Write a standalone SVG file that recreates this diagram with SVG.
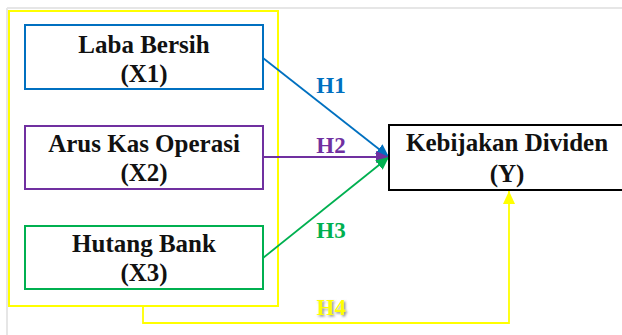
<svg xmlns="http://www.w3.org/2000/svg" width="622" height="335" viewBox="0 0 622 335">
  <style>
    .node-text { font-family: "Liberation Serif", "Times New Roman", serif; font-weight: bold; font-size: 25px; fill: #111; text-anchor: middle; }
    .label { font-family: "Liberation Serif", "Times New Roman", serif; font-weight: bold; font-size: 23px; text-anchor: middle; }
    .box { fill: #fff; stroke-width: 2; }
    .edge { fill: none; stroke-width: 1.8; }
  </style>
  <defs>
    <marker id="arrow-blue" markerUnits="userSpaceOnUse" markerWidth="14" markerHeight="12" refX="13" refY="6" orient="auto">
      <path d="M0,0 L13,6 L0,12 Z" fill="#0070C0"/>
    </marker>
    <marker id="arrow-purple" markerUnits="userSpaceOnUse" markerWidth="14" markerHeight="12" refX="13" refY="6" orient="auto">
      <path d="M0,0 L13,6 L0,12 Z" fill="#7030A0"/>
    </marker>
    <marker id="arrow-green" markerUnits="userSpaceOnUse" markerWidth="14" markerHeight="12" refX="13" refY="6" orient="auto">
      <path d="M0,0 L13,6 L0,12 Z" fill="#00B050"/>
    </marker>
    <marker id="arrow-yellow" markerUnits="userSpaceOnUse" markerWidth="14" markerHeight="12" refX="13" refY="6" orient="auto">
      <path d="M0,0 L13,6 L0,12 Z" fill="#FFFF00"/>
    </marker>
    <filter id="soft-shadow" x="-20%" y="-20%" width="150%" height="150%">
      <feDropShadow dx="1.5" dy="1.5" stdDeviation="1" flood-color="#777" flood-opacity="0.8"/>
    </filter>
  </defs>

  <!-- page background and frame lines -->
  <rect x="0" y="0" width="622" height="335" fill="#fff"/>
  <line x1="7" y1="8" x2="622" y2="8" stroke="#e6e6e6" stroke-width="2"/>
  <line x1="7" y1="8" x2="7" y2="335" stroke="#e6e6e6" stroke-width="2"/>

  <!-- grouping frame around the independent variables -->
  <rect id="independent-group" x="9" y="11" width="269" height="295" fill="none" stroke="#FFFF00" stroke-width="2"/>

  <g id="connectors">
    <line class="edge" x1="263" y1="58" x2="389" y2="157" stroke="#0070C0" marker-end="url(#arrow-blue)"/>
    <line class="edge" x1="263" y1="157" x2="389" y2="157" stroke="#7030A0" marker-end="url(#arrow-purple)"/>
    <line class="edge" x1="263" y1="258" x2="389" y2="157" stroke="#00B050" marker-end="url(#arrow-green)"/>
    <polyline class="edge" points="143,306 143,323 509,323 509,191" stroke="#FFFF00" stroke-width="2" marker-end="url(#arrow-yellow)"/>
    <text class="label" x="331" y="93" fill="#0070C0">H1</text>
    <text class="label" x="331" y="153" fill="#7030A0">H2</text>
    <text class="label" x="331" y="238" fill="#00B050">H3</text>
    <text class="label" x="331" y="315" fill="#FFFF00" filter="url(#soft-shadow)">H4</text>
  </g>

  <g id="x1">
    <rect class="box" x="25" y="25" width="238" height="64" stroke="#0070C0"/>
    <text class="node-text" x="144" y="53">Laba Bersih</text>
    <text class="node-text" x="144" y="82">(X1)</text>
  </g>

  <g id="x2">
    <rect class="box" x="25" y="126" width="238" height="63" stroke="#7030A0"/>
    <text class="node-text" x="144" y="152">Arus Kas Operasi</text>
    <text class="node-text" x="144" y="181">(X2)</text>
  </g>

  <g id="x3">
    <rect class="box" x="25" y="226" width="238" height="63" stroke="#00B050"/>
    <text class="node-text" x="144" y="252">Hutang Bank</text>
    <text class="node-text" x="144" y="281">(X3)</text>
  </g>

  <g id="y">
    <rect class="box" x="389" y="125" width="240" height="65" stroke="#000"/>
    <text class="node-text" x="507" y="151">Kebijakan Dividen</text>
    <text class="node-text" x="507" y="182">(Y)</text>
  </g>
</svg>
